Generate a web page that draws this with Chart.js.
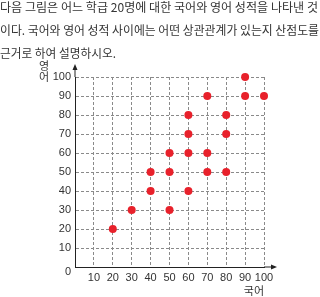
<!DOCTYPE html>
<html>
<head>
<meta charset="utf-8">
<script src="https://cdn.jsdelivr.net/npm/chart.js@4"></script>
<style>
  html, body { margin: 0; padding: 0; background: #fff; }
  #wrap { position: relative; width: 320px; height: 297px; overflow: hidden; }
  #question {
    position: absolute; left: 0; top: -5px;
    font-family: "Noto Sans CJK KR", sans-serif; font-size: 12px;
    line-height: 23px; color: #333; white-space: nowrap;
  }
  #question span { display: inline-block; transform-origin: 0 50%; }
  #scatter { position: absolute; left: 0; top: 0; }
</style>
</head>
<body>
<div id="wrap">
  <canvas id="scatter" width="320" height="297"></canvas>
  <div id="question">
    <div><span data-w="318">다음 그림은 어느 학급 20명에 대한 국어와 영어 성적을 나타낸 것</span></div>
    <div><span data-w="319">이다. 국어와 영어 성적 사이에는 어떤 상관관계가 있는지 산점도를</span></div>
    <div><span data-w="116">근거로 하여 설명하시오.</span></div>
  </div>
</div>
<script>
// 국어(x) / 영어(y) 점수, 20명
const koreanScores  = [20, 30, 40, 40, 50, 50, 50, 60, 60, 60, 60, 70, 70, 70, 80, 80, 80, 90, 90, 100];
const englishScores = [20, 30, 40, 50, 30, 50, 60, 40, 60, 70, 80, 50, 60, 90, 50, 70, 80, 90, 100, 90];
const tickValues = [10, 20, 30, 40, 50, 60, 70, 80, 90, 100];
const xTitle = "국어";
const yTitle = ["영", "어"];

// squeeze question lines to the reference widths
document.querySelectorAll("#question span").forEach(sp => {
    const w = sp.getBoundingClientRect().width;
    sp.style.transform = "scaleX(" + (Number(sp.dataset.w) / w) + ")";
});

const points = koreanScores.map((k, i) => ({ x: k, y: englishScores[i] }));
const tickFont = { family: "'Liberation Sans', Arial, sans-serif", size: 11 };

const extras = {
    id: "extras",
    afterDraw(chart) {
        const ctx = chart.ctx;
        const xs = chart.scales.x, ys = chart.scales.y;
        const x0 = xs.getPixelForValue(0), y0 = ys.getPixelForValue(0);
        const top = ys.getPixelForValue(100), right = xs.getPixelForValue(100);
        ctx.save();
        ctx.strokeStyle = "#222";
        ctx.fillStyle = "#222";
        ctx.lineWidth = 1;
        // y arrow
        ctx.beginPath();
        ctx.moveTo(x0, top);
        ctx.lineTo(x0, top - 10);
        ctx.stroke();
        ctx.beginPath();
        ctx.moveTo(x0, top - 13);
        ctx.lineTo(x0 - 2.5, top - 7);
        ctx.lineTo(x0 + 2.5, top - 7);
        ctx.closePath();
        ctx.fill();
        // x arrow
        ctx.beginPath();
        ctx.moveTo(right, y0);
        ctx.lineTo(right + 10, y0);
        ctx.stroke();
        ctx.beginPath();
        ctx.moveTo(right + 13, y0);
        ctx.lineTo(right + 7, y0 - 2.5);
        ctx.lineTo(right + 7, y0 + 2.5);
        ctx.closePath();
        ctx.fill();
        // origin label and y title
        ctx.fillStyle = "#333";
        ctx.textAlign = "center";
        ctx.textBaseline = "middle";
        ctx.font = "11px 'Liberation Sans', Arial, sans-serif";
        ctx.fillText("0", x0 - 7, y0 + 5);
        ctx.font = "11px 'Noto Sans CJK KR', sans-serif";
        ctx.fillText(yTitle[0], x0 - 31, top - 11);
        ctx.fillText(yTitle[1], x0 - 31, top);
        ctx.restore();
    }
};

new Chart(document.getElementById("scatter"), {
    type: "scatter",
    data: {
        datasets: [{
            data: points,
            backgroundColor: "#e8212b",
            borderColor: "#e8212b",
            pointRadius: 4,
            borderWidth: 0,
            clip: false
        }]
    },
    options: {
        responsive: false,
        animation: false,
        events: [],
        layout: { padding: { left: 0, top: 77, right: 56, bottom: 0 } },
        plugins: { legend: { display: false }, tooltip: { enabled: false } },
        scales: {
            x: {
                type: "linear", min: 0, max: 100,
                afterBuildTicks: s => { s.ticks = tickValues.map(v => ({ value: v })); },
                afterFit: s => { s.height = 30; },
                ticks: { font: tickFont, color: "#333", padding: 4, maxRotation: 0, autoSkip: false },
                grid: { color: "#8a8a8a", lineWidth: 1, drawTicks: false },
                border: { display: true, color: "#222", width: 1, dash: [3, 2] },
                title: { display: true, text: xTitle, align: "end", color: "#333",
                         font: { family: "'Noto Sans CJK KR', sans-serif", size: 11 },
                         padding: { top: 0, bottom: 0 } }
            },
            y: {
                type: "linear", min: 0, max: 100,
                afterBuildTicks: s => { s.ticks = tickValues.map(v => ({ value: v })); },
                afterFit: s => { s.width = 75; },
                ticks: { font: tickFont, color: "#333", padding: 4, autoSkip: false },
                grid: { color: "#8a8a8a", lineWidth: 1, drawTicks: false },
                border: { display: true, color: "#222", width: 1, dash: [3, 2] }
            }
        }
    },
    plugins: [extras]
});
</script>
</body>
</html>
